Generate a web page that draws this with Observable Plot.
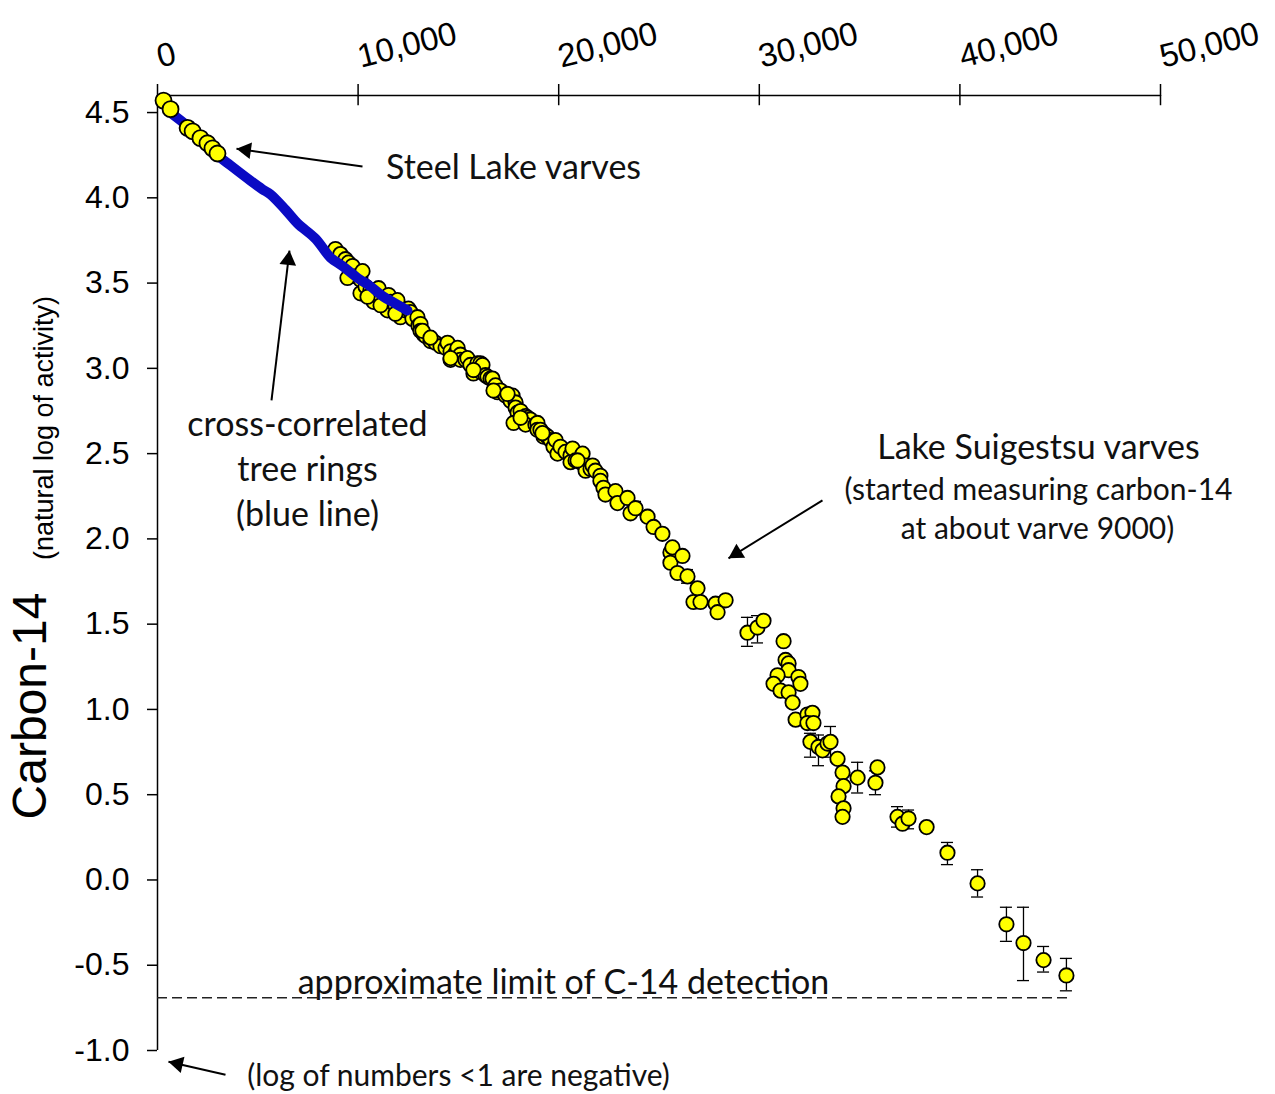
<!DOCTYPE html>
<html>
<head>
<meta charset="utf-8">
<script src="https://cdn.jsdelivr.net/npm/d3@7"></script>
<script src="https://cdn.jsdelivr.net/npm/@observablehq/plot@0.6"></script>
<style>
  body { margin: 0; background: #fff; }
  #chart svg { display: block; }
</style>
</head>
<body>
<div id="chart"></div>
<script>
// ---------- data ----------
const xTicks = [0, 10000, 20000, 30000, 40000, 50000];
const yTicks = [-1.0, -0.5, 0.0, 0.5, 1.0, 1.5, 2.0, 2.5, 3.0, 3.5, 4.0, 4.5];

// Steel Lake varves (age in varves/years, ln of activity)
const steelAge = [300, 650, 1500, 1750, 2140, 2490, 2740, 2990];
const steelLn  = [4.57, 4.52, 4.41, 4.39, 4.35, 4.32, 4.29, 4.26];

// Cross-correlated tree rings (blue line)
const treeAge = [750, 1400, 2140, 2990, 3640, 4640, 5230, 5630, 6380, 6980, 7880, 8620, 9220, 9970, 10620, 11270, 11860, 12460];
const treeLn  = [4.49, 4.43, 4.35, 4.25, 4.19, 4.10, 4.05, 4.02, 3.93, 3.85, 3.76, 3.65, 3.60, 3.53, 3.48, 3.42, 3.38, 3.34];

// Lake Suigetsu varves
const suiAge = [8870, 9120, 9370, 9520, 9620, 9720, 9870, 10120, 10220, 10120, 10370, 10620, 10770, 11020, 11120, 11370, 11470, 11520, 11620, 11860,
  11960, 12110, 12360, 12510, 12610, 12710, 12960, 13010, 13110, 13110, 13260, 13360, 13610, 13860, 14110, 14360, 14460, 14610, 14610, 14860,
  14960, 15100, 15100, 15350, 15450, 15600, 15750, 15850, 15950, 16100, 16100, 16200, 16350, 16450, 16600, 16700, 16850, 16950, 17100, 17350,
  17600, 17700, 17850, 17850, 17950, 18100, 18350, 18450, 18590, 17750, 18350, 18840, 18940, 18940, 19090, 19240, 19340, 19440, 19590, 19740,
  19840, 19940, 20090, 20340, 20590, 20590, 20690, 20840, 21090, 21190, 21340, 21340, 21590, 21690, 21830, 22080, 22080, 22230, 22330, 22830,
  22930, 23430, 23580, 23830, 24430, 24730, 25170, 25570, 25670, 25570, 25920, 26170, 26420, 26920, 26720, 27070, 27820, 27920, 28320, 29410,
  29910, 30210, 31210, 31310, 31460, 31460, 30910, 30710, 31950, 32050, 31060, 31460, 31660, 31810, 32400, 32650, 32400, 32700, 32550, 32950,
  33150, 33400, 33550, 33900, 34150, 34200, 33950, 34200, 34150, 34900, 35890, 35790, 36890, 37140, 37440, 38340, 39380, 40880, 42320, 43170,
  44170, 45310,
  13210, 13610, 14610, 15750, 16750, 17450, 18100, 19190, 20940, 9470, 10470, 11120, 11860];
const suiLn = [3.70, 3.67, 3.64, 3.62, 3.56, 3.60, 3.54, 3.52, 3.57, 3.44, 3.48, 3.46, 3.39, 3.47, 3.41, 3.40, 3.34, 3.43, 3.39, 3.37,
  3.40, 3.30, 3.34, 3.35, 3.33, 3.29, 3.30, 3.25, 3.26, 3.22, 3.20, 3.19, 3.16, 3.15, 3.13, 3.12, 3.15, 3.10, 3.05, 3.09,
  3.12, 3.08, 3.05, 3.05, 3.06, 3.02, 2.97, 3.00, 3.03, 3.03, 2.98, 3.02, 2.96, 2.95, 2.94, 2.94, 2.90, 2.86, 2.87, 2.84,
  2.81, 2.84, 2.80, 2.77, 2.74, 2.75, 2.72, 2.71, 2.70, 2.68, 2.67, 2.67, 2.68, 2.64, 2.64, 2.60, 2.61, 2.60, 2.58, 2.54,
  2.58, 2.50, 2.54, 2.51, 2.49, 2.45, 2.53, 2.46, 2.45, 2.50, 2.43, 2.40, 2.41, 2.43, 2.40, 2.37, 2.34, 2.30, 2.26, 2.28,
  2.21, 2.24, 2.15, 2.18, 2.13, 2.07, 2.03, 1.92, 1.95, 1.86, 1.80, 1.90, 1.78, 1.71, 1.63, 1.63, 1.62, 1.57, 1.64, 1.45,
  1.48, 1.52, 1.40, 1.29, 1.27, 1.23, 1.20, 1.15, 1.19, 1.15, 1.11, 1.10, 1.04, 0.94, 0.97, 0.98, 0.92, 0.92, 0.81, 0.78,
  0.76, 0.80, 0.81, 0.71, 0.63, 0.55, 0.49, 0.42, 0.37, 0.60, 0.66, 0.57, 0.37, 0.33, 0.36, 0.31, 0.16, -0.02, -0.26, -0.37,
  -0.47, -0.56,
  3.22, 3.18, 3.06, 2.99, 2.87, 2.85, 2.71, 2.62, 2.46, 3.53, 3.42, 3.37, 3.32];

// Error bars (Suigetsu)
const errAge  = [23830, 26420, 29410, 29910, 32550, 32950, 33550, 34900, 35790, 36890, 37440, 39380, 40880, 42320, 43170, 44170, 45310];
const errLow  = [2.14, 1.74, 1.37, 1.39, 0.72, 0.67, 0.72, 0.51, 0.50, 0.31, 0.30, 0.09, -0.10, -0.36, -0.59, -0.54, -0.65];
const errHigh = [2.22, 1.82, 1.54, 1.55, 0.86, 0.85, 0.90, 0.69, 0.64, 0.43, 0.41, 0.22, 0.06, -0.16, -0.16, -0.39, -0.46];

// Detection limit
const limitLn = -0.69;
const limitEndAge = 45500;

// ---------- tables built from the arrays ----------
const steel = steelAge.map((a, i) => ({age: a, ln: steelLn[i]}));
const tree = treeAge.map((a, i) => ({age: a, ln: treeLn[i]}));
const sui = suiAge.map((a, i) => ({age: a, ln: suiLn[i]}));
const errs = errAge.map((a, i) => ({age: a, lo: errLow[i], hi: errHigh[i]}));

// ---------- layout ----------
const W = 1275, H = 1094, mL = 157, mR = 115, mT = 95, mB = 44;
const xDom = [0, 50000], yDom = [-1.0, 4.6];
const sx = v => mL + (v - xDom[0]) / (xDom[1] - xDom[0]) * (W - mL - mR);
const sy = l => mT + (yDom[1] - l) / (yDom[1] - yDom[0]) * (H - mT - mB);
const capHalf = 300; // half width of error-bar caps in years

const annoFont = "Lato, 'Open Sans', sans-serif";
const notes = [
  {text: "Steel Lake varves", x: 17747, y: 4.177, size: 34},
  {text: "cross-correlated", x: 7478, y: 2.666, size: 34},
  {text: "tree rings", x: 7478, y: 2.402, size: 34},
  {text: "(blue line)", x: 7478, y: 2.138, size: 34},
  {text: "Lake Suigestsu varves", x: 43918, y: 2.531, size: 34},
  {text: "(started measuring carbon-14", x: 43918, y: 2.285, size: 30},
  {text: "at about varve 9000)", x: 43868, y: 2.056, size: 30},
  {text: "approximate limit of C-14 detection", x: 20239, y: -0.603, size: 34},
  {text: "(log of numbers <1 are negative)", x: 15005, y: -1.154, size: 30}
];

const arrows = [
  {x1: 10219, y1: 4.183, x2: 3938, y2: 4.288},
  {x1: 5683, y1: 2.812, x2: 6580, y2: 3.691},
  {x1: 33150, y1: 2.226, x2: 28464, y2: 1.886},
  {x1: 3390, y1: -1.142, x2: 548, y2: -1.066}
];

const headR = 6.2;
const tipDist = 2 * Math.sqrt(Math.PI * headR * headR / (3 * Math.sqrt(3)));
const headMarks = arrows.map(a => {
  const X1 = sx(a.x1), Y1 = sy(a.y1), X2 = sx(a.x2), Y2 = sy(a.y2);
  const L = Math.hypot(X2 - X1, Y2 - Y1);
  const ux = (X2 - X1) / L, uy = (Y2 - Y1) / L;
  const rot = Math.atan2(ux, -uy) * 180 / Math.PI;
  return Plot.dot([a], {x: "x2", y: "y2", symbol: "triangle", r: headR, fill: "black", stroke: "none",
    rotate: rot, dx: -ux * tipDist, dy: -uy * tipDist});
});

const chart = Plot.plot({
  width: W, height: H,
  marginLeft: mL, marginRight: mR, marginTop: mT, marginBottom: mB,
  style: {fontFamily: "'Liberation Sans', Arial, sans-serif", fontSize: "33px", color: "black", background: "white", overflow: "visible"},
  x: {domain: xDom},
  y: {domain: yDom},
  marks: [
    Plot.axisX({anchor: "top", ticks: xTicks, tickFormat: d3.format(","), tickSize: 12, tickPadding: 26, tickRotate: -14,
      fontSize: 33, strokeWidth: 1.5, label: null}),
    Plot.ruleX(xTicks, {y1: yDom[1], y2: yDom[1] - 0.06, strokeWidth: 1.5}),
    Plot.axisY({anchor: "left", ticks: yTicks, tickFormat: d => d.toFixed(1), tickSize: 10, tickPadding: 18,
      fontSize: 32, strokeWidth: 1.5, label: null}),
    Plot.ruleX([0], {y1: yDom[0], y2: yDom[1], strokeWidth: 1.5}),
    Plot.ruleY([yDom[1]], {x1: xDom[0], x2: xDom[1], strokeWidth: 1.5}),
    // detection limit
    Plot.ruleY([limitLn], {x1: 0, x2: limitEndAge, stroke: "#222", strokeWidth: 1.5, strokeDasharray: "10,5"}),
    // error bars
    Plot.ruleX(errs, {x: "age", y1: "lo", y2: "hi", stroke: "black", strokeWidth: 1.3}),
    Plot.ruleY(errs, {y: "lo", x1: d => d.age - capHalf, x2: d => d.age + capHalf, stroke: "black", strokeWidth: 1.3}),
    Plot.ruleY(errs, {y: "hi", x1: d => d.age - capHalf, x2: d => d.age + capHalf, stroke: "black", strokeWidth: 1.3}),
    // Suigetsu
    Plot.dot(sui, {x: "age", y: "ln", r: 7.2, fill: "#ffff00", stroke: "black", strokeWidth: 1.8}),
    // tree rings
    Plot.line(tree, {x: "age", y: "ln", curve: "catmull-rom", stroke: "#0a0ac4", strokeWidth: 10, strokeLinecap: "round", strokeLinejoin: "round"}),
    // Steel Lake
    Plot.dot(steel, {x: "age", y: "ln", r: 8, fill: "#ffff00", stroke: "black", strokeWidth: 1.8}),
    // arrows
    Plot.link(arrows, {x1: "x1", y1: "y1", x2: "x2", y2: "y2", stroke: "black", strokeWidth: 2}),
    ...headMarks,
    // annotations
    Plot.text(notes, {x: "x", y: "y", text: "text", fontSize: "size", fontFamily: annoFont, fill: "#111", textAnchor: "middle", lineAnchor: "middle"}),
    // axis titles
    Plot.text(["Carbon-14"], {frameAnchor: "left", y: [1.02], dx: -127, rotate: -90, fontSize: 48, textAnchor: "middle", lineAnchor: "middle"}),
    Plot.text(["(natural log of activity)"], {frameAnchor: "left", y: [2.65], dx: -113, rotate: -90, fontSize: 27, textAnchor: "middle", lineAnchor: "middle"})
  ]
});
document.getElementById("chart").appendChild(chart);
</script>
</body>
</html>
